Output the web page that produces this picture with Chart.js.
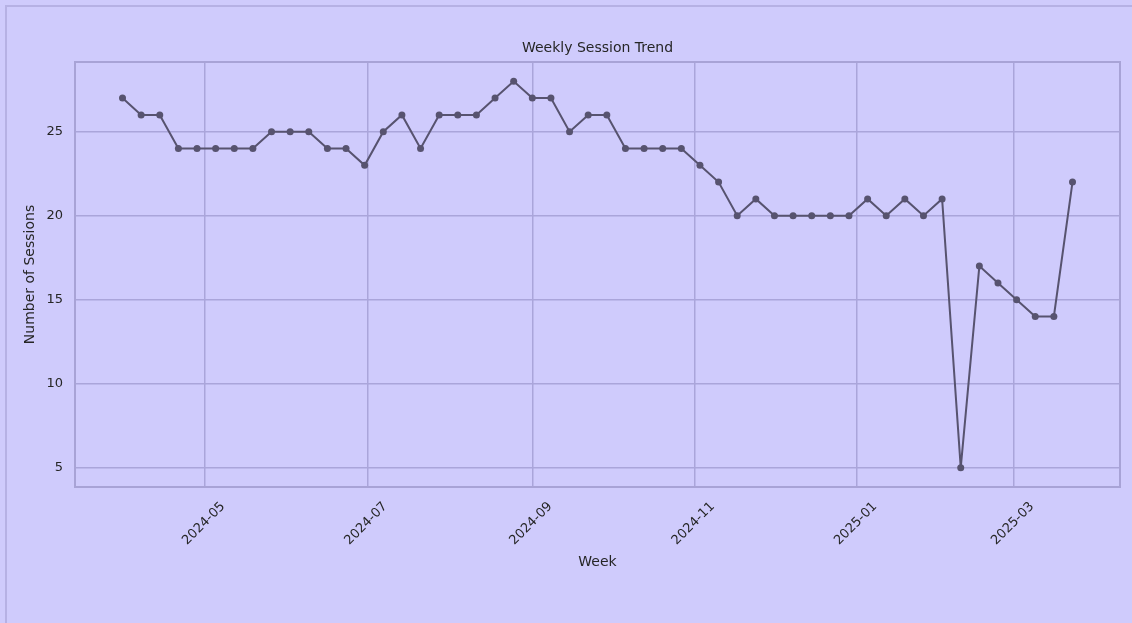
<!DOCTYPE html>
<html>
<head>
<meta charset="utf-8">
<title>Weekly Session Trend</title>
<script src="https://cdn.jsdelivr.net/npm/chart.js@4.4.1/dist/chart.umd.min.js"></script>
<style>
  html, body { margin: 0; padding: 0; background: #cfcbfc; }
  #wrap { position: relative; width: 1132px; height: 623px; background: #cfcbfc; }
  #frame { position: absolute; left: 5px; top: 5px; right: 0; bottom: 0;
           border-left: 2px solid #b6b1e4; border-top: 2px solid #b6b1e4; pointer-events: none; }
  canvas { position: absolute; left: 0; top: 0; }
</style>
</head>
<body>
<div id="wrap">
  <canvas id="myChart" width="1132" height="623"></canvas>
  <div id="frame"></div>
</div>
<script>
// weekly buckets (week ending Sunday)
const weeks = [
  '2024-03-31', '2024-04-07', '2024-04-14', '2024-04-21', '2024-04-28',
  '2024-05-05', '2024-05-12', '2024-05-19', '2024-05-26',
  '2024-06-02', '2024-06-09', '2024-06-16', '2024-06-23', '2024-06-30',
  '2024-07-07', '2024-07-14', '2024-07-21', '2024-07-28',
  '2024-08-04', '2024-08-11', '2024-08-18', '2024-08-25',
  '2024-09-01', '2024-09-08', '2024-09-15', '2024-09-22', '2024-09-29',
  '2024-10-06', '2024-10-13', '2024-10-20', '2024-10-27',
  '2024-11-03', '2024-11-10', '2024-11-17', '2024-11-24',
  '2024-12-01', '2024-12-08', '2024-12-15', '2024-12-22', '2024-12-29',
  '2025-01-05', '2025-01-12', '2025-01-19', '2025-01-26',
  '2025-02-02', '2025-02-09', '2025-02-16', '2025-02-23',
  '2025-03-02', '2025-03-09', '2025-03-16', '2025-03-23'
];
const sessions = [
  27, 26, 26, 24, 24,
  24, 24, 24, 25,
  25, 25, 24, 24, 23,
  25, 26, 24, 26,
  26, 26, 27, 28,
  27, 27, 25, 26, 26,
  24, 24, 24, 24,
  23, 22, 20, 21,
  20, 20, 20, 20, 20,
  21, 20, 21, 20,
  21, 5, 17, 16,
  15, 14, 14, 22
];
const xTickLabels = ['2024-05', '2024-07', '2024-09', '2024-11', '2025-01', '2025-03'];
const yTicks = [5, 10, 15, 20, 25];
const chartTitle = 'Weekly Session Trend';

const DAY = 86400000;
const toDay = s => Date.parse(s + 'T00:00:00Z') / DAY;
const xs = weeks.map(toDay);
const xTicks = xTickLabels.map(m => toDay(m + '-01'));

// matplotlib-ish 5% margins
const xPad = (xs[xs.length - 1] - xs[0]) * 0.05;
const yLo = Math.min(...sessions), yHi = Math.max(...sessions);
const yPad = (yHi - yLo) * 0.05;

const FONT = "'DejaVu Sans', sans-serif";
const TEXT = '#262626';
const GRID = '#aaa5da';
const LINE = '#57536f';

// frame around the plot + title centred over the plot area (like matplotlib)
const boxPlugin = {
  id: 'box',
  afterDraw(chart) {
    const { ctx, chartArea: a } = chart;
    ctx.save();
    ctx.strokeStyle = '#a8a3d6';
    ctx.lineWidth = 2;
    ctx.strokeRect(a.left, a.top, a.right - a.left, a.bottom - a.top);
    ctx.fillStyle = TEXT;
    ctx.font = '14px ' + FONT;
    ctx.textAlign = 'center';
    ctx.textBaseline = 'middle';
    ctx.fillText(chartTitle, (a.left + a.right) / 2, a.top - 14);
    ctx.restore();
  }
};

const ctx = document.getElementById('myChart').getContext('2d');
const myChart = new Chart(ctx, {
  type: 'line',
  data: {
    datasets: [{
      label: 'Sessions',
      data: xs.map((x, i) => ({ x: x, y: sessions[i] })),
      borderColor: LINE,
      backgroundColor: LINE,
      borderWidth: 2,
      pointRadius: 3.5,
      pointBorderWidth: 0,
      pointHoverRadius: 4,
      tension: 0
    }]
  },
  plugins: [boxPlugin],
  options: {
    responsive: false,
    animation: false,
    layout: { padding: { left: 0, right: 12, top: 62, bottom: 0 } },
    plugins: {
      legend: { display: false },
      tooltip: { enabled: false },
      title: { display: false }
    },
    scales: {
      x: {
        type: 'linear',
        min: xs[0] - xPad,
        max: xs[xs.length - 1] + xPad,
        afterBuildTicks: s => { s.ticks = xTicks.map(v => ({ value: v })); },
        afterFit: s => { s.height = 136; },
        grid: { color: GRID, lineWidth: 1.5, drawTicks: false },
        border: { display: false },
        ticks: {
          autoSkip: false,
          minRotation: 45,
          maxRotation: 45,
          labelOffset: 18,
          padding: 12,
          color: TEXT,
          font: { family: FONT, size: 13 },
          callback: (v, i) => xTickLabels[i]
        },
        title: {
          display: true,
          text: 'Week',
          color: TEXT,
          font: { family: FONT, size: 14 },
          padding: { top: 4, bottom: 52 }
        }
      },
      y: {
        min: yLo - yPad,
        max: yHi + yPad,
        afterBuildTicks: s => { s.ticks = yTicks.map(v => ({ value: v })); },
        afterFit: s => { s.width = 75; },
        grid: { color: GRID, lineWidth: 1.5, drawTicks: false },
        border: { display: false },
        ticks: {
          padding: 12,
          color: TEXT,
          font: { family: FONT, size: 13 }
        },
        title: {
          display: true,
          text: 'Number of Sessions',
          color: TEXT,
          font: { family: FONT, size: 14 },
          padding: { top: 22, bottom: 4 }
        }
      }
    }
  }
});
</script>
</body>
</html>
